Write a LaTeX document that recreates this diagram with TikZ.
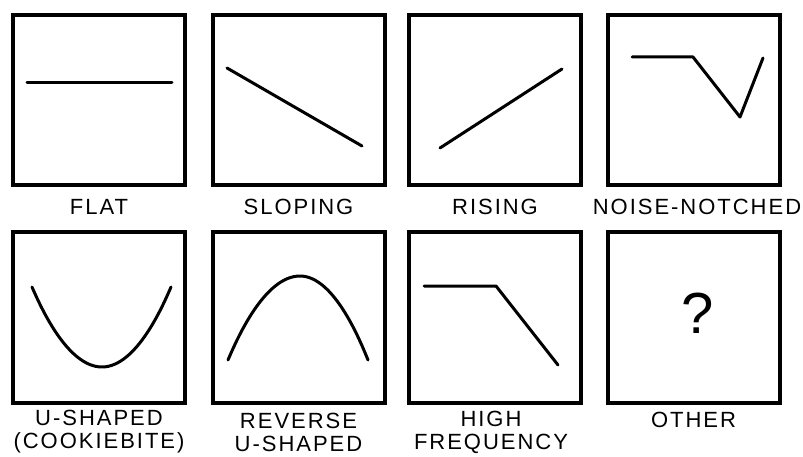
\documentclass[tikz,border=0pt]{standalone}
\usepackage{fontspec}
\setmainfont{Liberation Sans}
\newfontfamily\capfont[LetterSpace=9]{Liberation Sans}
\usetikzlibrary{positioning}

\begin{document}
\begin{tikzpicture}[
    x=1pt, y=-1pt,
    panel/.style = {rectangle, draw=black, line width=4pt, minimum width=172pt, minimum height=170pt, inner sep=0pt},
    caption/.style = {align=center, font=\capfont\fontsize{22}{23}\selectfont, inner sep=0pt},
    curve/.style = {draw=black, line width=3pt, line cap=round, line join=round}
]
\useasboundingbox (0,0) rectangle (803,457);

% Panels
\node (flat) [panel] at (99, 100) {};
\node (slope) [panel] at (298.5, 100) {};
\node (rise) [panel] at (495, 100) {};
\node (notch) [panel] at (693.5, 100) {};
\node (ushape) [panel] at (99, 317.5) {};
\node (revu) [panel] at (298.5, 317.5) {};
\node (highf) [panel] at (495, 317.5) {};
\node (other) [panel] at (693.5, 317.5) {};

% Captions
\node (flatlbl) [caption] at (99, 207) {FLAT};
\node (slopelbl) [caption] at (298.5, 207) {SLOPING};
\node (riselbl) [caption] at (495, 207) {RISING};
\node (notchlbl) [caption] at (697, 207) {NOISE-NOTCHED};
\node (ushapelbl) [caption] at (99, 432) {U-SHAPED\\(COOKIEBITE)};
\node (revulbl) [caption] at (298.5, 432) {REVERSE\\U-SHAPED};
\node (highflbl) [caption] at (491, 432) {HIGH\\FREQUENCY};
\node (otherlbl) [caption] at (693.5, 420) {OTHER};

% Curves
\draw [curve] (27, 83) -- (172, 83);
\draw [curve] (227, 68) -- (362, 146);
\draw [curve] (440, 148) -- (562, 69);
\draw [curve] (632, 57) -- (693, 57) -- (740, 117) -- (763, 58);
\draw [curve] (32, 287) parabola bend (102, 367) (171, 287);
\draw [curve] (228, 360) parabola bend (300, 276) (368, 360);
\draw [curve] (424, 286) -- (496, 286) -- (558, 365);
\node (qmark) [font=\fontsize{58}{60}\selectfont, inner sep=0pt] at (698, 313) {?};

\end{tikzpicture}
\end{document}
